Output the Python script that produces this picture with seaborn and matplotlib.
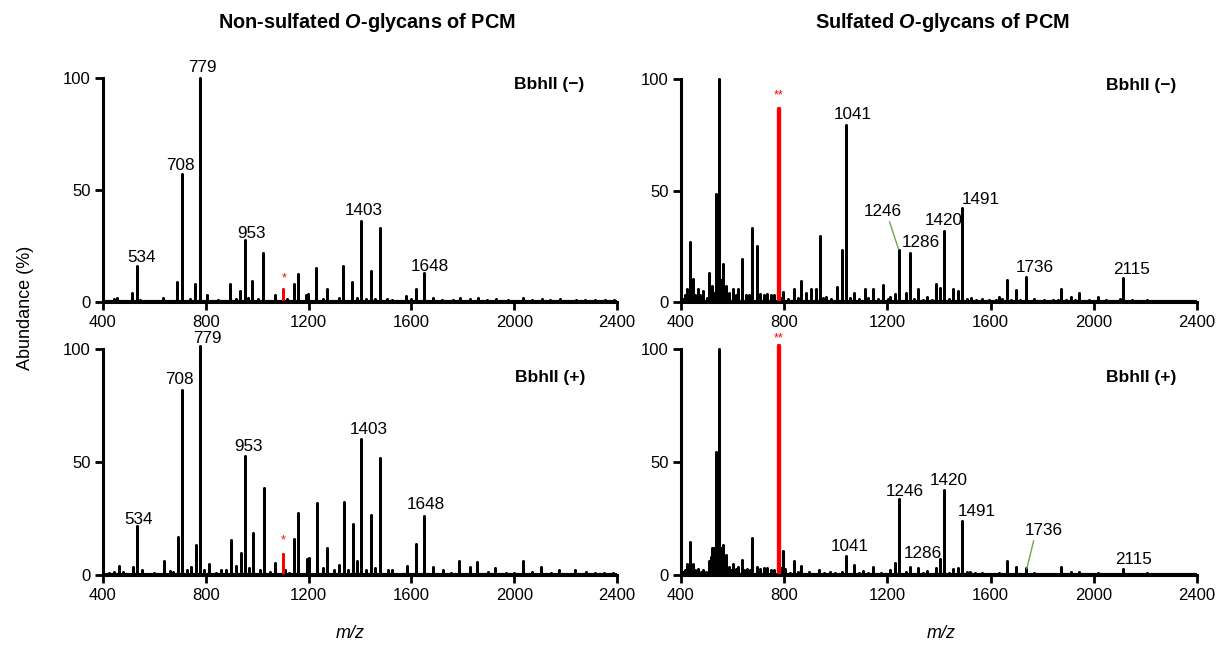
import numpy as np
import pandas as pd
import matplotlib
matplotlib.use("Agg")
import matplotlib.pyplot as plt
import seaborn as sns

# ---------------- data ----------------
# Non-sulfated, BbhII (-)
tl_mz = [443, 456, 513, 534, 544, 634, 689, 708, 739, 759, 779, 806, 847, 894, 916, 935,
         953, 963, 981, 1005, 1024, 1068, 1116, 1142, 1157, 1189, 1199, 1230, 1257, 1270,
         1317, 1333, 1368, 1390, 1403, 1425, 1441, 1459, 1477, 1506, 1526, 1580, 1597,
         1616, 1648, 1683, 1721, 1761, 1788, 1828, 1859, 1896, 1929, 1976, 2034, 2070,
         2107, 2140, 2178, 2239, 2275, 2313, 2353, 2387]
tl_ab = [1.5, 2, 4, 16, 1, 2, 9, 57, 1.5, 8, 100, 3, 1, 8, 1.5, 5,
         27.5, 2, 9.5, 1.5, 22, 3, 1.5, 8, 12.5, 3, 3.5, 15, 1.5, 5.7,
         2, 16, 9, 2, 36, 1.5, 14, 1.5, 33, 1.5, 1, 2.5, 1.5,
         5.6, 13, 2, 1, 1, 2, 1.5, 2, 1, 1.5, 1, 2, 1,
         1.5, 1, 1.5, 1, 1, 1, 1, 1]
tl_red_mz = [1099]
tl_red_ab = [6]

# Non-sulfated, BbhII (+)
bl_mz = [424, 444, 464, 478, 515, 534, 552, 599, 639, 659, 672, 693, 708, 726, 744, 762,
         779, 793, 811, 840, 860, 880, 897, 918, 938, 953, 970, 984, 1012, 1027, 1048,
         1071, 1109, 1122, 1142, 1160, 1193, 1201, 1231, 1256, 1272, 1299, 1317, 1337,
         1353, 1372, 1390, 1403, 1424, 1441, 1460, 1476, 1508, 1525, 1581, 1616, 1648,
         1683, 1723, 1753, 1786, 1827, 1857, 1898, 1927, 1967, 1998, 2033, 2068, 2103,
         2142, 2175, 2237, 2279, 2314, 2350, 2383]
bl_ab = [1, 1.5, 4, 1.5, 3.7, 21.5, 2, 1, 6, 1.8, 1.5, 16.8, 82, 2, 3.7, 13.4,
         101.5, 2, 4.7, 1, 2, 2, 15.6, 4, 9.7, 52.7, 3, 18.6, 2, 38.3, 1.5,
         5.2, 2, 1, 16, 27.5, 7, 7.4, 32, 3, 11.9, 2, 4.5, 32.4,
         2, 22.6, 6, 60.2, 2, 26.4, 3, 51.7, 2, 2, 4.2, 13.8, 26.3,
         3.7, 2, 1, 6, 3.7, 5.6, 1.5, 3.3, 1, 1, 6, 1.5, 3.7,
         1, 2.2, 2, 1.5, 1, 1, 1]
bl_red_mz = [1102]
bl_red_ab = [9.2]

# Sulfated, BbhII (-)
tr_mz = [406, 416, 424, 436, 447, 456, 464, 475, 487, 500, 510, 520, 527, 534, 542, 549,
         554, 561, 567, 574, 585, 603, 614, 622, 637, 652, 662, 677, 693, 708, 721, 735,
         748, 761, 786, 795, 815, 839, 855, 867, 885, 902, 922, 937, 952, 962, 983, 1003,
         1024, 1041, 1056, 1070, 1090, 1113, 1126, 1143, 1163, 1184, 1201, 1212, 1230,
         1246, 1271, 1286, 1304, 1318, 1338, 1355, 1371, 1389, 1405, 1420, 1438, 1455,
         1474, 1491, 1509, 1525, 1545, 1565, 1592, 1619, 1632, 1646, 1665, 1679, 1697,
         1713, 1736, 1769, 1807, 1840, 1860, 1871, 1894, 1911, 1927, 1942, 1981, 2016,
         2048, 2102, 2115, 2148, 2206, 2276, 2343]
tr_ab = [1.5, 3, 6, 27, 10.5, 3, 5.7, 3, 5, 2, 13, 7, 4, 48.6, 32, 100,
         10, 17, 6, 7, 4, 6, 3, 6, 19.5, 3, 3, 33, 25, 3.5, 3, 3.5,
         3, 3, 2, 4.6, 1.5, 6, 2, 9.4, 4, 6, 6, 29.5, 2, 2.4, 1.5, 6.7,
         23.5, 79.4, 2, 4, 1.5, 6, 2, 6, 1.5, 7.5, 1.5, 2.4, 3.4,
         23.5, 4, 22, 1.5, 5.7, 1, 2.4, 1, 8, 6.4, 32, 1.5, 5.7,
         5, 42, 1.5, 2, 1, 1.5, 1, 1, 2.4, 1.5, 9.8, 1, 5.2,
         1, 11.3, 1.5, 1, 1, 1, 5.7, 1, 2.4, 1, 4.2, 1, 2.4,
         1, 1.5, 10.9, 1, 1, 0.5, 0.5]
tr_red_mz = [779]
tr_red_ab = [86.5]

# Sulfated, BbhII (+)
br_mz = [406, 416, 424, 436, 447, 456, 467, 477, 487, 496, 507, 515, 520, 527, 534, 542,
         549, 556, 561, 567, 574, 587, 595, 603, 613, 622, 637, 646, 657, 668, 677, 693,
         708, 721, 735, 748, 761, 788, 795, 804, 822, 839, 855, 867, 895, 936, 956, 976,
         996, 1023, 1041, 1070, 1090, 1107, 1126, 1143, 1177, 1212, 1230, 1246, 1271,
         1286, 1318, 1338, 1355, 1389, 1405, 1420, 1438, 1455, 1474, 1491, 1509, 1519,
         1539, 1565, 1632, 1665, 1697, 1736, 1769, 1871, 1911, 1942, 2016, 2115, 2206]
br_ab = [1.5, 2, 5, 14.4, 5, 2, 2.7, 1.5, 2, 1.5, 6, 8, 12, 12, 54.4, 31,
         100, 12, 13.4, 7, 9, 3.7, 2, 5, 2.5, 3.7, 6.7, 2, 2.7, 2, 16.3, 3.7,
         2.5, 3, 3, 2, 2, 3, 10.8, 2.7, 1, 6.2, 1.5, 4, 1.5, 2, 1, 1.5,
         1, 1.5, 8.5, 4.5, 1, 1.8, 1, 3.7, 1, 2, 5.2, 33.7, 1.5,
         3.7, 3, 1, 1.8, 3, 7, 37.4, 1, 2.7, 3, 24, 1.5, 1.5,
         1, 1, 1, 6.2, 3.7, 3, 1, 3.7, 1.5, 1.5, 1, 2.7, 1]
br_red_mz = [779]
br_red_ab = [101.5]

# peak annotations: (text, x, y)
tl_labels = [("534", 551, 20), ("708", 703, 61), ("779", 786, 104.5), ("953", 977, 30.5),
             ("1403", 1414, 41), ("1648", 1671, 16)]
bl_labels = [("534", 538, 24.5), ("708", 699, 86.5), ("779", 807, 104.8), ("953", 968, 57),
             ("1403", 1435, 64.6), ("1648", 1656, 31.2)]
tr_labels = [("1041", 1067, 84), ("1246", 1184, 40.4), ("1286", 1331, 26.5),
             ("1420", 1418, 36.5), ("1491", 1561, 46), ("1736", 1770, 15.3),
             ("2115", 2148, 14.6)]
br_labels = [("1041", 1054, 12.6), ("1246", 1268, 37), ("1286", 1338, 9.7),
             ("1420", 1436, 42), ("1491", 1548, 28), ("1736", 1807, 19.8),
             ("2115", 2155, 7)]
tr_leaders = [((1208, 36), (1243, 23.8))]
br_leaders = [((1767, 15.2), (1740, 2.7))]

x_ticks = [400, 800, 1200, 1600, 2000, 2400]
y_ticks = [0, 50, 100]

# ---------------- style ----------------
sns.set_style("ticks")
plt.rcParams["font.family"] = ["Liberation Sans", "DejaVu Sans"]
plt.rcParams["mathtext.fontset"] = "custom"
plt.rcParams["mathtext.it"] = "Liberation Sans:italic:bold"
plt.rcParams["mathtext.rm"] = "Liberation Sans:bold"
for key in ("text.color", "axes.labelcolor", "xtick.color", "ytick.color",
            "axes.edgecolor"):
    plt.rcParams[key] = "black"

W, H = 1219, 645
fig = plt.figure(figsize=(W / 100, H / 100), dpi=100)

YTOP = 108.0


def make_axes(x0, x1, y0px, y100px):
    per = (y0px - y100px) / 100.0
    height = per * YTOP
    return fig.add_axes([x0 / W, 1 - y0px / H, (x1 - x0) / W, height / H])


def stick_frame(mz, ab):
    mz = np.asarray(mz, float)
    ab = np.asarray(ab, float)
    z = np.zeros_like(ab)
    return pd.DataFrame({"mz": np.repeat(mz, 3),
                         "ab": np.column_stack([z, ab, z]).ravel()})


def draw_panel(ax, mz, ab, rmz, rab, labels, leaders, tag, tag_pos, red_text, red_lw, red_xy):
    base = pd.DataFrame({"mz": [400, 2400], "ab": [0, 0]})
    sns.lineplot(data=base, x="mz", y="ab", color="black", lw=3.0, ax=ax,
                 estimator=None, sort=False)
    sns.lineplot(data=stick_frame(mz, ab), x="mz", y="ab", color="black", lw=1.9,
                 ax=ax, estimator=None, sort=False, clip_on=False)
    sns.lineplot(data=stick_frame(rmz, rab), x="mz", y="ab", color="#ff0000", lw=red_lw,
                 ax=ax, estimator=None, sort=False, clip_on=False)
    for t, x, y in labels:
        ax.text(x, y, t, ha="center", va="center", fontsize=12.3, color="black")
    for (a, b) in leaders:
        ax.plot([a[0], b[0]], [a[1], b[1]], color="#6aaa4a", lw=1.0)
    ax.text(red_xy[0], red_xy[1], red_text, ha="center", va="center", fontsize=9,
            color="#ff0000")
    ax.text(tag_pos[0], tag_pos[1], tag, ha="right", va="center",
            fontsize=12.5, fontweight="bold")
    ax.set_xlim(400, 2400)
    ax.set_ylim(0, YTOP)
    ax.set_xticks(x_ticks)
    ax.set_yticks(y_ticks)
    ax.set_xlabel("")
    ax.set_ylabel("")
    sns.despine(ax=ax)
    ax.spines["left"].set_bounds(0, 100)
    for s in ("left", "bottom"):
        ax.spines[s].set_linewidth(2.2)
        ax.spines[s].set_color("black")
    ax.tick_params(axis="both", length=6, width=2, labelsize=12, pad=3,
                   color="black", labelcolor="black")


ax_tl = make_axes(103, 617, 302, 78)
ax_bl = make_axes(103, 617, 575, 349)
ax_tr = make_axes(681, 1197, 302, 79)
ax_br = make_axes(681, 1197, 575, 349)

draw_panel(ax_tl, tl_mz, tl_ab, tl_red_mz, tl_red_ab, tl_labels, [],
           "BbhII (\u2212)", (2273, 97), "*", 2.0, (1106, 10.5))
draw_panel(ax_bl, bl_mz, bl_ab, bl_red_mz, bl_red_ab, bl_labels, [],
           "BbhII (+)", (2276, 87.5), "*", 2.0, (1102, 15.3))
draw_panel(ax_tr, tr_mz, tr_ab, tr_red_mz, tr_red_ab, tr_labels, tr_leaders,
           "BbhII (\u2212)", (2319, 97), "**", 3.0, (779, 92.5))
draw_panel(ax_br, br_mz, br_ab, br_red_mz, br_red_ab, br_labels, br_leaders,
           "BbhII (+)", (2319, 87.5), "**", 3.0, (780, 104.7))

fig.text(367 / W, 1 - 23 / H, "Non-sulfated $O$-glycans of PCM", ha="center", va="center",
         fontsize=14.3, fontweight="bold")
fig.text(942 / W, 1 - 23 / H, "Sulfated $O$-glycans of PCM", ha="center", va="center",
         fontsize=14.3, fontweight="bold")
fig.text(25 / W, 1 - 308 / H, "Abundance (%)", rotation=90, ha="center", va="center",
         fontsize=13)
fig.text(350 / W, 1 - 634 / H, "m/z", ha="center", va="center", fontsize=13,
         fontstyle="italic")
fig.text(941 / W, 1 - 634 / H, "m/z", ha="center", va="center", fontsize=13,
         fontstyle="italic")

fig.savefig("out.png", dpi=100)
